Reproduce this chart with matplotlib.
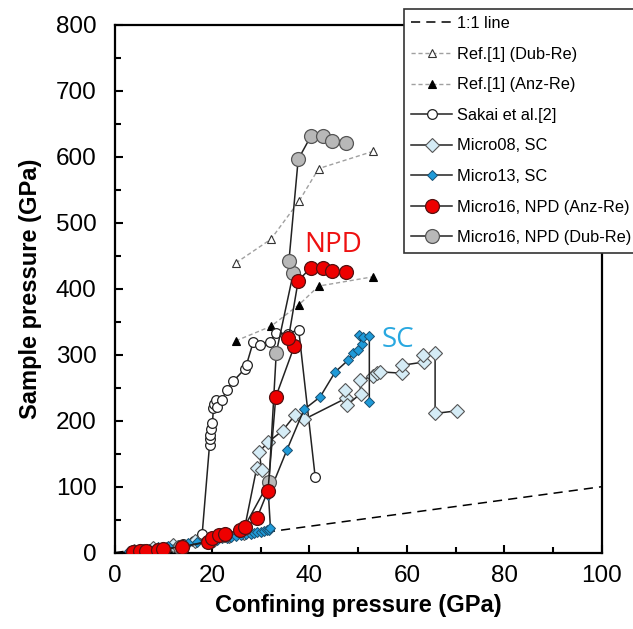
import matplotlib
matplotlib.use("Agg")
import matplotlib.pyplot as plt
from matplotlib.ticker import MultipleLocator

plt.rcParams['font.family'] = ['Liberation Sans', 'DejaVu Sans']

# Ref.[1] reference curves
ref_x = [24.9, 32.1, 37.9, 41.9, 53.0]
ref_dub_y = [439, 475, 533, 582, 608]
ref_anz_y = [321, 343, 376, 404, 418]

# Sakai et al.[2]
sakai_x = [5.0, 8.0, 11.0, 14.0, 16.3, 18.0, 19.5, 19.6, 19.7, 19.9, 20.1, 20.3, 20.5,
           20.8, 21.1, 22.0, 23.0, 24.4, 26.8, 27.1, 28.5, 29.9, 31.9, 33.2, 35.7, 37.8, 41.2]
sakai_y = [3, 6, 9, 13, 17, 29, 163, 172, 178, 187, 196, 219, 226,
           232, 221, 231, 246, 260, 279, 285, 320, 315, 320, 333, 332, 338, 114]

# Micro08, SC
m08_x = [4.0, 8.0, 12.0, 16.5, 20.0, 23.5, 26.5, 29.2, 30.2, 29.7, 31.6, 34.5, 37.1, 38.9,
         47.5, 47.3, 47.8, 50.5, 50.4, 53.1, 53.8, 54.5, 59.0, 59.0, 63.6, 63.4, 65.8, 65.8, 70.3]
m08_y = [3, 7, 11, 17, 21, 25, 30, 129, 125, 153, 168, 185, 209, 202,
         234, 247, 224, 241, 262, 267, 272, 274, 272, 284, 289, 300, 302, 211, 215]

# Micro13, SC
m13_x = [3.0, 5.0, 7.0, 9.0, 11.0, 13.0, 15.0, 17.0, 19.0, 21.0, 22.0, 23.0, 24.0, 25.0,
         26.0, 27.0, 28.0, 28.7, 29.3, 30.0, 30.6, 31.2, 31.8, 32.0, 31.6, 35.4, 38.9, 42.2,
         45.3, 48.0, 49.0, 50.0, 50.7, 50.1, 51.1, 52.3, 52.3]
m13_y = [2, 4, 6, 8, 10, 12, 14, 16, 18, 20, 22, 23, 24, 25,
         27, 28, 29, 30, 31, 32, 33, 34, 35, 38, 87, 156, 217, 236,
         274, 292, 302, 307, 316, 330, 327, 328, 229]

# Micro16, NPD (Anz-Re)
m16a_x = [3.7, 5.2, 6.4, 9.0, 10.0, 13.8, 19.1, 20.1, 21.5, 22.7, 25.8, 26.8, 29.2, 31.5,
          33.1, 36.9, 35.7, 37.7, 40.3, 42.7, 44.7, 47.5]
m16a_y = [1, 2, 3, 4, 6, 9, 16, 22, 27, 28, 34, 39, 52, 94,
          236, 313, 325, 412, 432, 432, 427, 426]

# Micro16, NPD (Dub-Re)
m16d_x = [4.0, 6.0, 9.5, 13.5, 19.5, 22.5, 26.5, 31.7, 33.2, 36.7, 35.8, 37.7, 40.3, 42.7, 44.7, 47.5]
m16d_y = [1, 2, 4, 8, 18, 27, 37, 107, 303, 424, 442, 596, 631, 631, 624, 621]

one_x = [0, 100]
one_y = [0, 100]

fig = plt.figure(figsize=(6.33, 6.29), dpi=100)
ax = fig.add_axes([0.1809, 0.1213, 0.7697, 0.8394])

ax.plot(one_x, one_y, color='black', ls=(0, (6, 4)), lw=1.1, label='1:1 line', zorder=1)
ax.plot(ref_x, ref_dub_y, color='#a0a0a0', ls=(0, (3, 2)), lw=1.0, marker='^', ms=6,
        mfc='white', mec='#333333', mew=0.8, label='Ref.[1] (Dub-Re)', zorder=2)
ax.plot(ref_x, ref_anz_y, color='#a0a0a0', ls=(0, (3, 2)), lw=1.0, marker='^', ms=6,
        mfc='black', mec='black', mew=0.8, label='Ref.[1] (Anz-Re)', zorder=2)
ax.plot(sakai_x, sakai_y, color='#222222', lw=1.1, marker='o', ms=7,
        mfc='white', mec='#222222', mew=0.9, label='Sakai et al.[2]', zorder=3)
ax.plot(m08_x, m08_y, color='#222222', lw=1.1, marker='D', ms=7.5,
        mfc='#d5ecf6', mec='#555555', mew=0.8, label='Micro08, SC', zorder=4)
ax.plot(m13_x, m13_y, color='#222222', lw=1.1, marker='D', ms=5.5,
        mfc='#1f9ad8', mec='#1a4f70', mew=0.7, label='Micro13, SC', zorder=5)
ax.plot(m16d_x, m16d_y, color='#222222', lw=1.1, marker='o', ms=10,
        mfc='#b8b8b8', mec='#555555', mew=0.9, label='Micro16, NPD (Dub-Re)', zorder=6)
ax.plot(m16a_x, m16a_y, color='#222222', lw=1.1, marker='o', ms=10,
        mfc='#ee0000', mec='#551111', mew=0.9, label='Micro16, NPD (Anz-Re)', zorder=7)

ax.text(44.9, 466, 'NPD', color='#ee1111', fontsize=20, ha='center', va='center',
        family=['Open Sans', 'DejaVu Sans'])
ax.text(58.2, 322, 'SC', color='#29a8e0', fontsize=20, ha='center', va='center',
        family=['Open Sans', 'DejaVu Sans'])

ax.set_xlim(0, 100)
ax.set_ylim(0, 800)
ax.xaxis.set_major_locator(MultipleLocator(20))
ax.xaxis.set_minor_locator(MultipleLocator(10))
ax.yaxis.set_major_locator(MultipleLocator(100))
ax.yaxis.set_minor_locator(MultipleLocator(50))
ax.tick_params(which='both', direction='in', width=1.5, labelsize=17.5)
ax.tick_params(axis='x', pad=9)
ax.tick_params(axis='y', pad=13)
ax.tick_params(which='major', length=6)
ax.tick_params(which='minor', length=4.5)
for s in ax.spines.values():
    s.set_linewidth(1.6)

ax.set_xlabel('Confining pressure (GPa)', fontsize=17, fontweight='bold', labelpad=5)
ax.set_ylabel('Sample pressure (GPa)', fontsize=17, fontweight='bold', labelpad=10)

handles, labels = ax.get_legend_handles_labels()
order = [0, 1, 2, 3, 4, 5, 7, 6]
leg = fig.legend([handles[i] for i in order], [labels[i] for i in order],
                 loc='upper left', bbox_to_anchor=(0.638, 0.986), borderaxespad=0,
                 fontsize=11.8, frameon=True, fancybox=False, edgecolor='#333333',
                 framealpha=1, handlelength=2.5, labelspacing=0.95, borderpad=0.45,
                 handletextpad=0.3)
leg.get_frame().set_linewidth(1.2)

fig.savefig('out.png', dpi=100)
